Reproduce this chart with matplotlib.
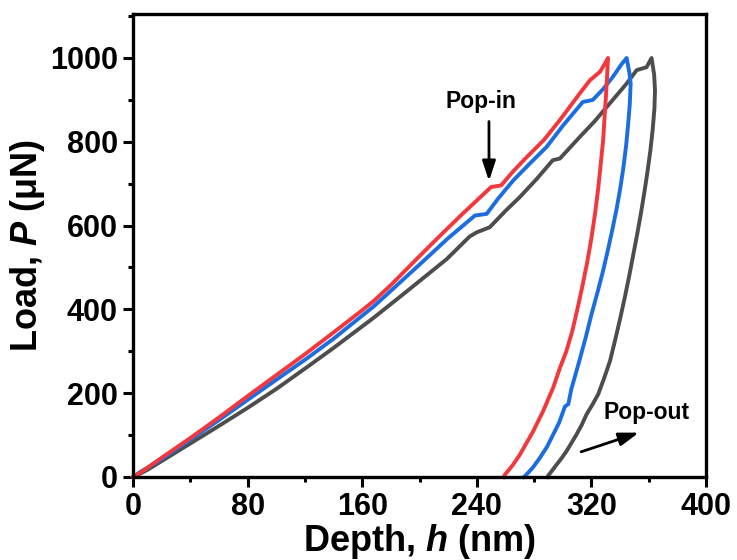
import matplotlib
matplotlib.use("Agg")
import matplotlib.pyplot as plt
from matplotlib.ticker import MultipleLocator

plt.rcParams['font.family'] = ['Liberation Sans', 'DejaVu Sans']
plt.rcParams['font.weight'] = 'bold'
plt.rcParams['mathtext.fontset'] = 'custom'
plt.rcParams['mathtext.it'] = 'Liberation Sans:italic:bold'
plt.rcParams['mathtext.rm'] = 'Liberation Sans:bold'

# ---- data (depth nm, load uN) ----
red_load_h = [0, 5, 10, 20, 40, 60, 80, 100, 120, 140, 160, 168, 180, 195.6, 212, 230, 250, 257, 265, 275, 287, 298, 312, 319, 326, 330, 331.6]
red_load_p = [0, 10, 22, 46, 93, 142, 193, 243, 293, 345, 398, 420, 458, 512, 568, 628, 692, 696, 728, 764, 805, 852, 916, 947, 967, 990, 1000]
red_unload_h = [331.6, 331.0, 330.4, 329.4, 328.2, 326.6, 324.8, 322.6, 320.0, 317.2, 314.0, 310.5, 306.8, 302.5, 298.0, 293.4, 286.4, 279.5, 274.5, 270.2, 265, 259.7, 258.8]
red_unload_p = [1000, 960, 923, 870, 804, 750, 690, 630, 570, 515, 460, 405, 350, 300, 260, 214, 158, 110, 80, 54, 28, 6, 0]

blue_load_h = [0, 5, 10, 20, 40, 60, 80, 100, 121, 140, 160, 168, 185, 202.6, 220, 238.7, 246.9, 255, 265.5, 277, 288.8, 300, 314, 321, 328, 335, 341, 344.6]
blue_load_p = [0, 12, 22, 43, 89, 136, 184, 232, 282, 330, 385, 407, 460, 515, 570, 624, 628, 665, 708, 748, 788, 838, 895, 900, 925, 955, 985, 1000]
blue_unload_h = [344.6, 346.5, 347.4, 346.8, 345.6, 344.2, 342.4, 340.2, 337.6, 334.6, 331.4, 328.0, 324.2, 320.2, 315.8, 311, 306, 303.9, 301.5, 297.5, 293.4, 289, 284.1, 279, 273.6, 272.8]
blue_unload_p = [1000, 965, 939, 890, 840, 790, 740, 690, 640, 590, 540, 490, 440, 390, 330, 270, 210, 174, 168, 130, 102, 72, 46, 22, 2, 0]

gray_load_h = [0, 5, 10, 20, 40, 60, 80, 100, 121, 140, 168, 190, 219, 235, 240, 249, 260, 270, 282, 293, 298, 312, 322, 330.7, 344.6, 351.6, 358.5, 362]
gray_load_p = [0, 8, 17, 38, 80, 122, 165, 210, 261, 308, 380, 440, 520, 574, 584, 596, 635, 668, 712, 756, 760, 812, 848, 883, 939, 971, 978, 1000]
gray_unload_h = [362, 363.8, 364.4, 364.0, 362.8, 361.2, 359.2, 357, 354.6, 352, 349.2, 346.4, 343.4, 340.2, 336.8, 333, 328.8, 324.8, 320.6, 316.7, 313.2, 309.7, 306.2, 302.7, 299.2, 295.8, 292.5, 290, 289.3]
gray_unload_p = [1000, 960, 923, 880, 830, 780, 730, 680, 630, 580, 530, 480, 430, 380, 330, 277, 235, 198, 172, 150, 124, 102, 82, 62, 45, 30, 15, 4, 0]

RED = '#F2383C'
BLUE = '#1C6EE0'
GRAY = '#4D4D4D'

fig = plt.figure(figsize=(7.37, 5.60), dpi=100)
ax = fig.add_axes([133/737, 1-477/560, (706-133)/737, (477-14)/560])

lw = 2.8
for hl, pl, hu, pu, c in [
    (gray_load_h, gray_load_p, gray_unload_h, gray_unload_p, GRAY),
    (blue_load_h, blue_load_p, blue_unload_h, blue_unload_p, BLUE),
    (red_load_h, red_load_p, red_unload_h, red_unload_p, RED),
]:
    ax.plot(hl + hu[1:], pl + pu[1:], color=c, lw=lw, solid_joinstyle='round', clip_on=False)

ax.set_xlim(0, 400)
ax.set_ylim(0, 1105)
ax.xaxis.set_major_locator(MultipleLocator(80))
ax.xaxis.set_minor_locator(MultipleLocator(40))
ax.yaxis.set_major_locator(MultipleLocator(200))
ax.yaxis.set_minor_locator(MultipleLocator(100))
ax.tick_params(which='both', direction='out', top=False, right=False, width=2.2)
ax.tick_params(which='major', length=7, labelsize=22, pad=4)
ax.tick_params(which='minor', length=3.5)
for s in ax.spines.values():
    s.set_linewidth(2.4)
for lab in ax.get_xticklabels() + ax.get_yticklabels():
    lab.set_fontweight('bold')

ax.set_xlabel(r'Depth, $\mathit{h}$ (nm)', fontsize=26, fontweight='bold', labelpad=0)
ax.set_ylabel(r'Load, $\mathit{P}$ (μN)', fontsize=26, fontweight='bold', labelpad=2)

ax.annotate('', xy=(248.5, 700), xytext=(248.5, 855),
            arrowprops=dict(arrowstyle='-|>,head_width=0.4,head_length=1.2', color='black', lw=2.0))
ax.text(243, 897, 'Pop-in', fontsize=16.5, fontweight='bold', ha='center', va='center')
ax.annotate('', xy=(355, 108), xytext=(311, 58),
            arrowprops=dict(arrowstyle='-|>,head_width=0.4,head_length=1.2', color='black', lw=2.0))
ax.text(358.6, 155, 'Pop-out', fontsize=16.5, fontweight='bold', ha='center', va='center')

fig.savefig('out.png', dpi=100)
